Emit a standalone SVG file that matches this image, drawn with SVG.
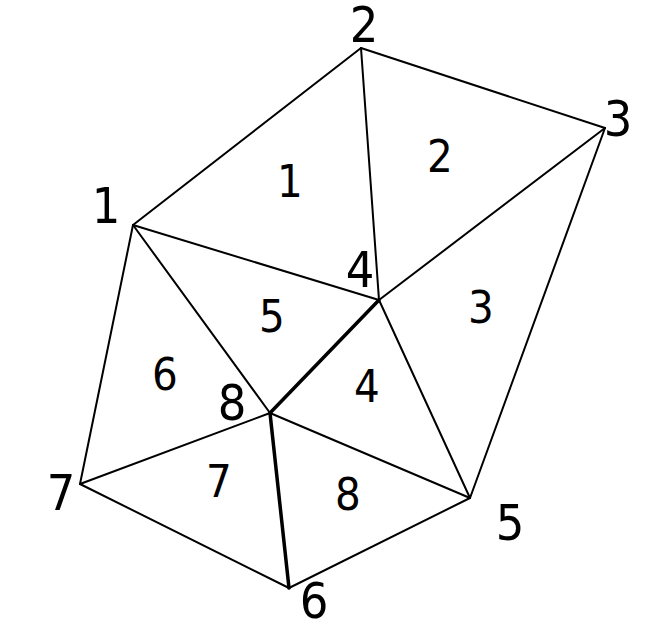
<svg xmlns="http://www.w3.org/2000/svg" width="672" height="628" viewBox="0 0 672 628">
<style>
.e{stroke:#000;stroke-width:2;fill:none;stroke-linecap:round}
.b{stroke:#000;stroke-width:3.5;fill:none;stroke-linecap:round}
.v{font-family:"DejaVu Sans Condensed","DejaVu Sans",sans-serif;font-size:50px;text-anchor:middle;fill:#000}
.t{font-family:"DejaVu Sans Condensed","DejaVu Sans",sans-serif;font-size:45px;text-anchor:middle;fill:#000}
</style>
<rect width="672" height="628" fill="#fff"/>
<g id="connectors">
<line class="e" x1="133" y1="225" x2="361" y2="48"/>
<line class="e" x1="361" y1="48" x2="605" y2="128"/>
<line class="e" x1="361" y1="48" x2="379" y2="300"/>
<line class="e" x1="605" y1="128" x2="379" y2="300"/>
<line class="e" x1="133" y1="225" x2="379" y2="300"/>
<line class="e" x1="605" y1="128" x2="470" y2="498"/>
<line class="e" x1="379" y1="300" x2="470" y2="498"/>
<line class="b" x1="379" y1="300" x2="270" y2="413"/>
<line class="e" x1="133" y1="225" x2="270" y2="413"/>
<line class="e" x1="133" y1="225" x2="80" y2="484"/>
<line class="e" x1="80" y1="484" x2="270" y2="413"/>
<line class="e" x1="270" y1="413" x2="470" y2="498"/>
<line class="b" x1="270" y1="413" x2="289" y2="588"/>
<line class="e" x1="80" y1="484" x2="289" y2="588"/>
<line class="e" x1="289" y1="588" x2="470" y2="498"/>
</g>
<g id="vertex-1"><text class="v" x="106" y="223">1</text></g>
<g id="vertex-2"><text class="v" x="364" y="42">2</text></g>
<g id="vertex-3"><text class="v" x="618" y="136">3</text></g>
<g id="vertex-4"><text class="v" x="360" y="287">4</text></g>
<g id="vertex-5"><text class="v" x="510" y="540">5</text></g>
<g id="vertex-6"><text class="v" x="314" y="618">6</text></g>
<g id="vertex-7"><text class="v" x="61" y="510">7</text></g>
<g id="vertex-8"><text class="v" x="232" y="420">8</text></g>
<g id="tri-1"><text class="t" x="290" y="197">1</text></g>
<g id="tri-2"><text class="t" x="440" y="172">2</text></g>
<g id="tri-3"><text class="t" x="481" y="323">3</text></g>
<g id="tri-4"><text class="t" x="367" y="402">4</text></g>
<g id="tri-5"><text class="t" x="272" y="332">5</text></g>
<g id="tri-6"><text class="t" x="165" y="390">6</text></g>
<g id="tri-7"><text class="t" x="219" y="497">7</text></g>
<g id="tri-8"><text class="t" x="348" y="510">8</text></g>
</svg>
